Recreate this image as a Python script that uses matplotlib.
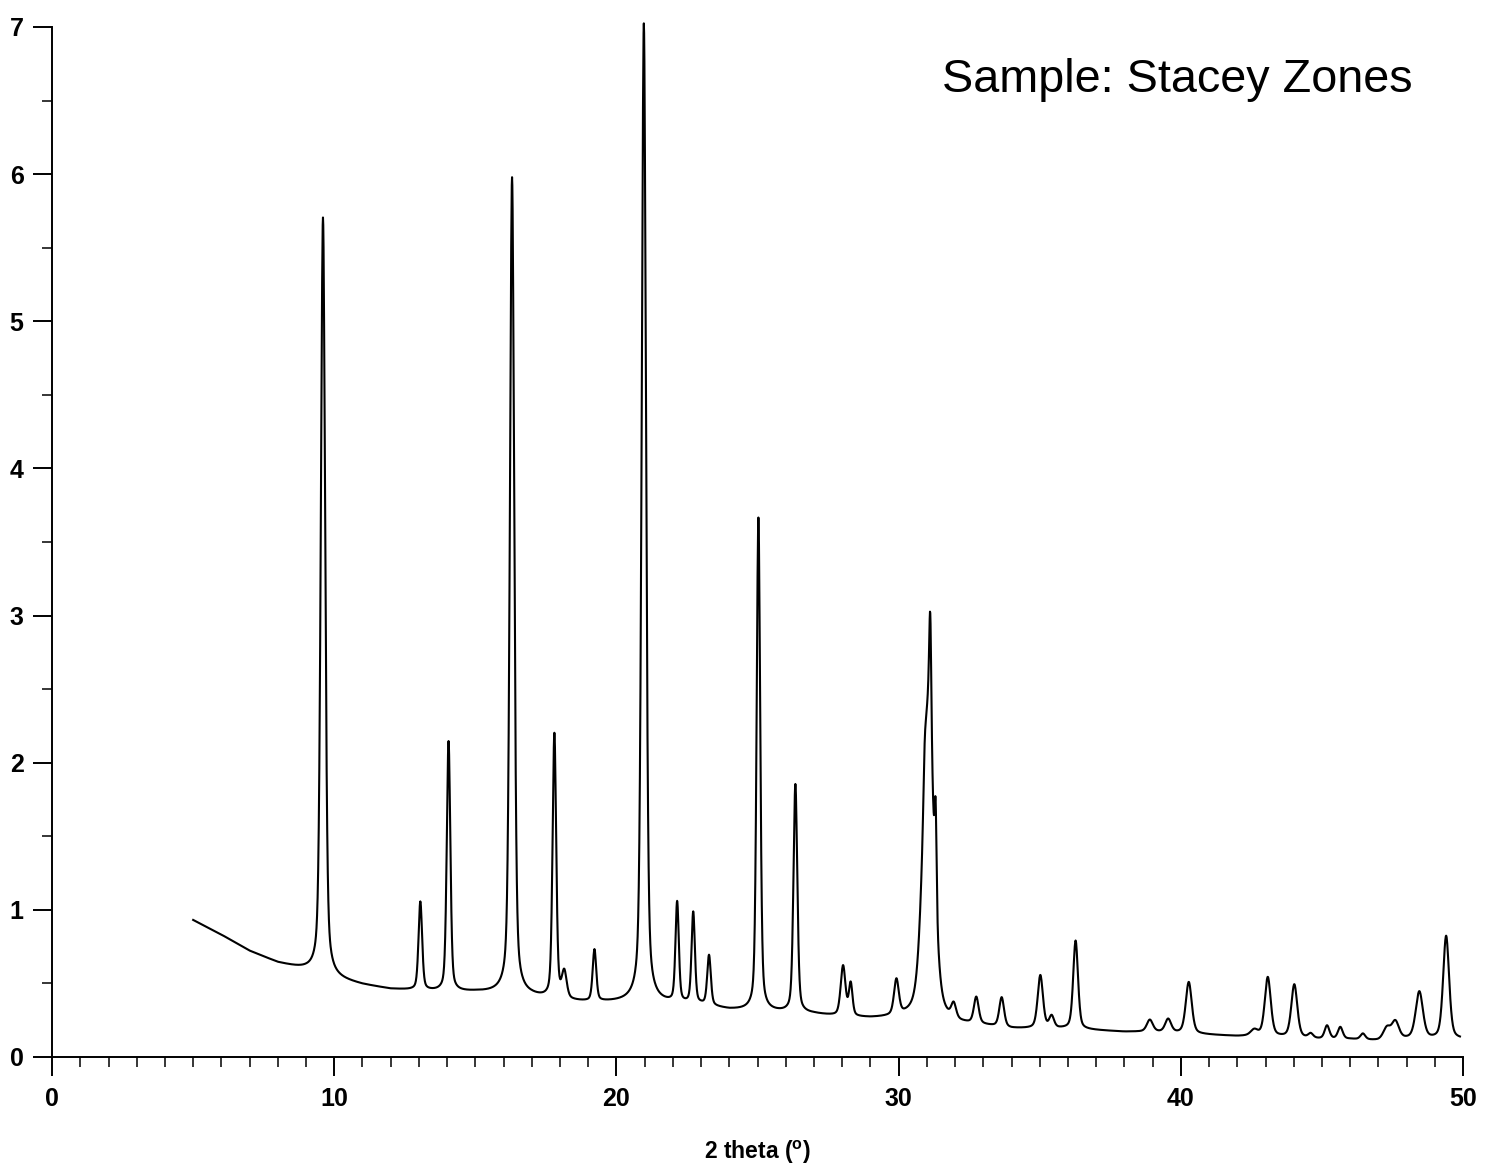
import numpy as np
import matplotlib
matplotlib.use("Agg")
import matplotlib.pyplot as plt
from matplotlib.ticker import MultipleLocator

# ---- data ----
bg_theta = [5, 6, 7, 8, 9, 10, 11, 12, 13, 14, 15, 16, 17, 18, 19, 20, 21, 22, 23, 24,
            25, 26, 27, 28, 29, 30, 31, 32, 33, 34, 35, 36, 37, 38, 39, 40, 41, 42, 43,
            44, 45, 46, 47, 48, 49, 50]
bg_level = [0.93, 0.83, 0.72, 0.64, 0.59, 0.53, 0.49, 0.46, 0.45, 0.44, 0.44, 0.43, 0.41,
            0.38, 0.37, 0.37, 0.37, 0.36, 0.35, 0.32, 0.31, 0.30, 0.29, 0.27, 0.26, 0.26,
            0.26, 0.22, 0.21, 0.19, 0.19, 0.19, 0.18, 0.17, 0.17, 0.16, 0.15, 0.14, 0.14,
            0.13, 0.12, 0.12, 0.11, 0.12, 0.12, 0.12]

peak_pos = [9.60, 13.05, 14.05, 16.30, 17.80, 18.15, 19.22, 20.97, 22.15, 22.72, 23.28,
            25.03, 26.34, 28.03, 28.30, 29.92, 30.92, 31.05, 31.12, 31.31, 31.95, 32.75,
            33.65, 35.02, 35.42, 36.27, 38.90, 39.55, 40.28, 42.60, 43.08, 44.02, 44.60,
            45.18, 45.65, 46.45, 47.30, 47.60, 48.45, 49.40]
peak_height = [5.15, 0.60, 1.70, 5.55, 1.80, 0.18, 0.35, 6.65, 0.68, 0.62, 0.34,
               3.35, 1.55, 0.34, 0.22, 0.24, 0.22, 2.10, 0.80, 0.62, 0.10, 0.18,
               0.20, 0.36, 0.08, 0.60, 0.08, 0.09, 0.35, 0.04, 0.40, 0.36, 0.03,
               0.09, 0.08, 0.04, 0.08, 0.12, 0.32, 0.70]
peak_fwhm = [0.18, 0.15, 0.15, 0.18, 0.15, 0.20, 0.15, 0.18, 0.14, 0.14, 0.15,
             0.15, 0.16, 0.20, 0.15, 0.20, 0.10, 0.45, 0.09, 0.08, 0.20, 0.20,
             0.20, 0.22, 0.20, 0.20, 0.25, 0.25, 0.25, 0.30, 0.25, 0.25, 0.20,
             0.20, 0.20, 0.20, 0.30, 0.30, 0.30, 0.25]

theta_start, theta_end, theta_step = 5.0, 49.9, 0.01

# ---- build the diffraction profile (pseudo-Voigt peaks on background) ----
theta = np.arange(theta_start, theta_end, theta_step)
intensity = np.interp(theta, bg_theta, bg_level)
eta = 0.4
for p, h, w in zip(peak_pos, peak_height, peak_fwhm):
    d = (theta - p) / w
    gauss = np.exp(-4 * np.log(2) * d ** 2)
    lor = 1.0 / (1.0 + 4 * d ** 2)
    intensity = intensity + h * ((1 - eta) * gauss + eta * lor)

# ---- figure ----
plt.rcParams['font.family'] = ['Liberation Sans', 'DejaVu Sans']
fig = plt.figure(figsize=(14.92, 11.67), dpi=100)
ax = fig.add_axes([0.0349, 0.0943, 0.9457, 0.8826])
ax.plot(theta, intensity, color='black', lw=1.5, clip_on=False)

ax.set_xlim(0, 50)
ax.set_ylim(0, 7)
for s in ['top', 'right']:
    ax.spines[s].set_visible(False)
for s in ['left', 'bottom']:
    ax.spines[s].set_linewidth(1.4)

ax.xaxis.set_major_locator(MultipleLocator(10))
ax.xaxis.set_minor_locator(MultipleLocator(1))
ax.yaxis.set_major_locator(MultipleLocator(1))
ax.yaxis.set_minor_locator(MultipleLocator(0.5))
ax.tick_params(axis='both', which='major', direction='out', length=13.5, width=1.4,
               labelsize=18, pad=8)
ax.tick_params(axis='y', which='major', pad=7)
ax.tick_params(axis='both', which='minor', direction='out', length=7, width=1.1)
for lab in ax.get_xticklabels() + ax.get_yticklabels():
    lab.set_fontweight('bold')

ax.set_xlabel('2 theta ($\\mathregular{^o}$)', fontsize=16.5, fontweight='bold', labelpad=20)

ax.text(0.9646, 0.9369, 'Sample: Stacey Zones', transform=ax.transAxes, fontsize=33.7,
        ha='right', va='baseline')

fig.savefig('out.png', dpi=100)
